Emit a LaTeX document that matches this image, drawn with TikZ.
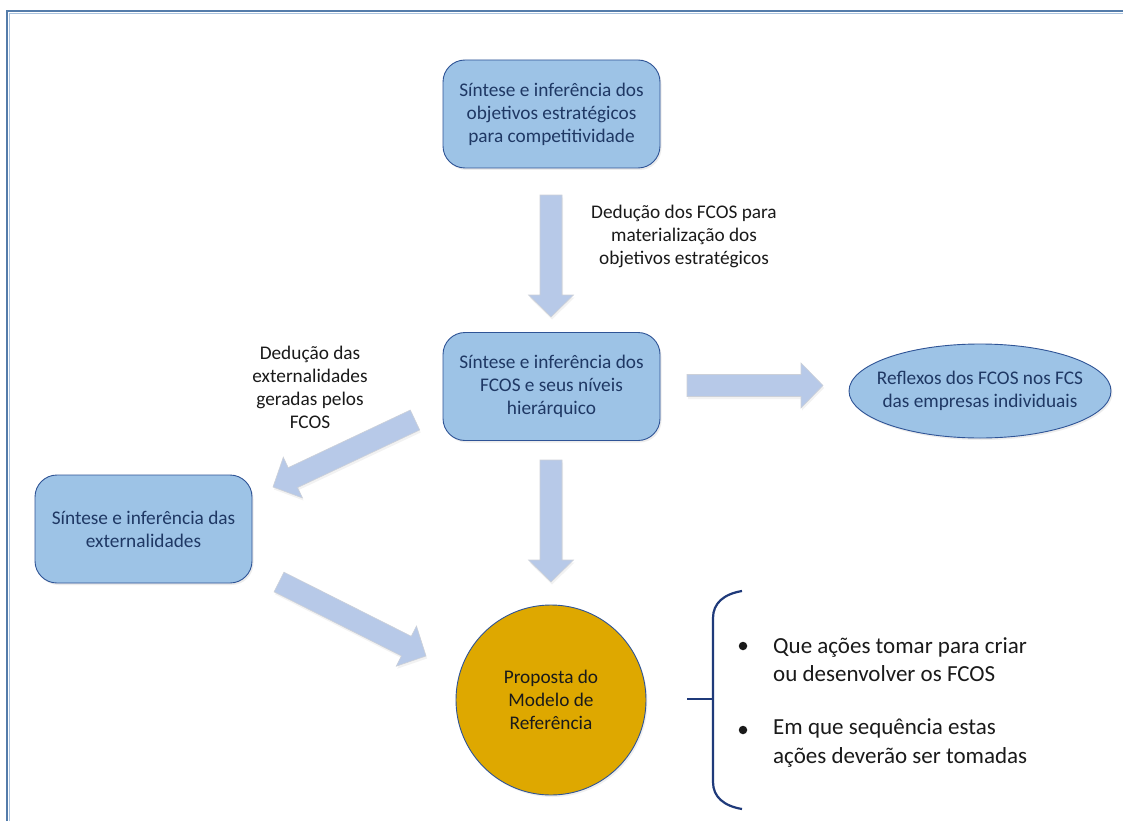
\documentclass[tikz,border=0pt]{standalone}
\usepackage{fontspec}
\setmainfont{Carlito}
\usetikzlibrary{calc,shadows,shapes.geometric}

\definecolor{boxfill}{RGB}{157,195,230}
\definecolor{boxedge}{RGB}{47,84,150}
\definecolor{boxtext}{RGB}{31,56,100}
\definecolor{arrowfill}{RGB}{183,201,232}
\definecolor{arrowedge}{RGB}{204,208,216}
\definecolor{goldfill}{RGB}{222,168,0}
\definecolor{bracecol}{RGB}{31,58,122}
\definecolor{framecol}{RGB}{84,124,170}
\definecolor{framelight}{RGB}{170,195,222}
\definecolor{labeltext}{RGB}{26,26,26}

\tikzset{
  basefont/.style={font=\fontsize{19.3}{23}\selectfont},
  itemfont/.style={font=\fontsize{23}{28.5}\selectfont},
  stepbox/.style={basefont, rounded corners=22pt, minimum width=217pt, minimum height=108pt,
    fill=boxfill, draw=boxedge, line width=0.9pt, text=boxtext, align=center, inner sep=0pt,
    drop shadow={opacity=0.15, shadow xshift=1.5pt, shadow yshift=-2pt}},
  outcome/.style={basefont, ellipse, minimum width=262pt, minimum height=94pt,
    inner xsep=-14pt, inner ysep=0pt,
    fill=boxfill, draw=boxedge, line width=0.9pt, text=boxtext, align=center,
    drop shadow={opacity=0.15, shadow xshift=1.5pt, shadow yshift=-2pt}},
  proposal/.style={basefont, circle, minimum size=190pt, inner sep=0pt,
    fill=goldfill, draw=boxedge, line width=0.9pt, text=labeltext, align=center,
    drop shadow={opacity=0.12, shadow xshift=1.5pt, shadow yshift=-2pt}},
  note/.style={basefont, text=labeltext, align=center, inner sep=0pt},
  item/.style={itemfont, text=labeltext, align=left, inner sep=0pt, anchor=west},
  bulletdot/.style={circle, fill=labeltext, minimum size=8.5pt, inner sep=0pt},
  barrow/.style={fill=arrowfill, draw=arrowedge, line width=0.6pt, line join=miter,
    drop shadow={opacity=0.10, shadow xshift=1pt, shadow yshift=-2.5pt}},
  frameline/.style={draw=framecol, line width=1.6pt},
  bracestroke/.style={draw=bracecol, line width=2.2pt}
}

% Block arrow from tail coordinate #1 to tip coordinate #2
\newcommand\blockarrow[2]{%
  \coordinate (#1-#2-h) at ($(#2)!22pt!(#1)$);
  \path[barrow] ($(#1)!11pt!90:(#2)$) -- ($(#1-#2-h)!11pt!90:(#2)$)
    -- ($(#1-#2-h)!22.5pt!90:(#2)$) -- (#2)
    -- ($(#1-#2-h)!22.5pt!-90:(#2)$) -- ($(#1-#2-h)!11pt!-90:(#2)$)
    -- ($(#1)!11pt!-90:(#2)$) -- cycle;
}

\begin{document}
\begin{tikzpicture}[x=1pt, y=-1pt]
\useasboundingbox (0,0) rectangle (1123,821);
\fill[white] (0,0) rectangle (1123,821);

% page frame
\coordinate (fbl) at (7,821);
\coordinate (ftl) at (7,11);
\coordinate (ftr) at (1123,11);
\draw[framelight, line width=0.8pt] (9.2,821) -- (9.2,13.2) -- (1123,13.2);
\draw[frameline] (fbl) -- (ftl) -- (ftr);

% steps
\node[stepbox] (obj) at (551.5,114) {Síntese e inferência dos\\objetivos estratégicos\\para competitividade};
\node[stepbox] (fcos) at (551.5,386.5) {Síntese e inferência dos\\FCOS e seus níveis\\hierárquico};
\node[stepbox] (ext) at (143.5,529) {Síntese e inferência das\\externalidades};
\node[outcome] (fcs) at (980,391) {Reflexos dos FCOS nos FCS\\das empresas individuais};
\node[proposal] (prop) at (551,700) {Proposta do\\Modelo de\\Referência};

% arrow ends
\coordinate (d1t) at (551,195);  \coordinate (d1h) at (551,317);
\coordinate (rt)  at (687,385.5); \coordinate (rh) at (823,385.5);
\coordinate (d2t) at (551,460);  \coordinate (d2h) at (551,582);
\coordinate (lt)  at (415,420);  \coordinate (lh) at (273,487);
\coordinate (et)  at (279,582);  \coordinate (eh) at (426,656);

\blockarrow{d1t}{d1h}
\blockarrow{rt}{rh}
\blockarrow{d2t}{d2h}
\blockarrow{lt}{lh}
\blockarrow{et}{eh}

% arrow labels
\node[note] (lab1) at (684,236) {Dedução dos FCOS para\\materialização dos\\objetivos estratégicos};
\node[note] (lab2) at (310,387) {Dedução das\\externalidades\\geradas pelos\\FCOS};

% brace with the two questions
\coordinate (btop) at (742,591);
\coordinate (bbot) at (742,809);
\coordinate (bmid) at (713,699);
\coordinate (btick) at (687,699);
\draw[bracestroke] (btop) .. controls (724,594) and (713,603) .. (713,618)
  -- (713,782) .. controls (713,797) and (724,806) .. (bbot);
\draw[bracestroke] (btick) -- (bmid);

\node[bulletdot] (b1) at (743,646) {};
\node[item] (q1) at (773,659.5) {Que ações tomar para criar\\ou desenvolver os FCOS};
\node[bulletdot] (b2) at (743,730) {};
\node[item] (q2) at (773,743) {Em que sequência estas\\ações deverão ser tomadas};
\end{tikzpicture}
\end{document}
